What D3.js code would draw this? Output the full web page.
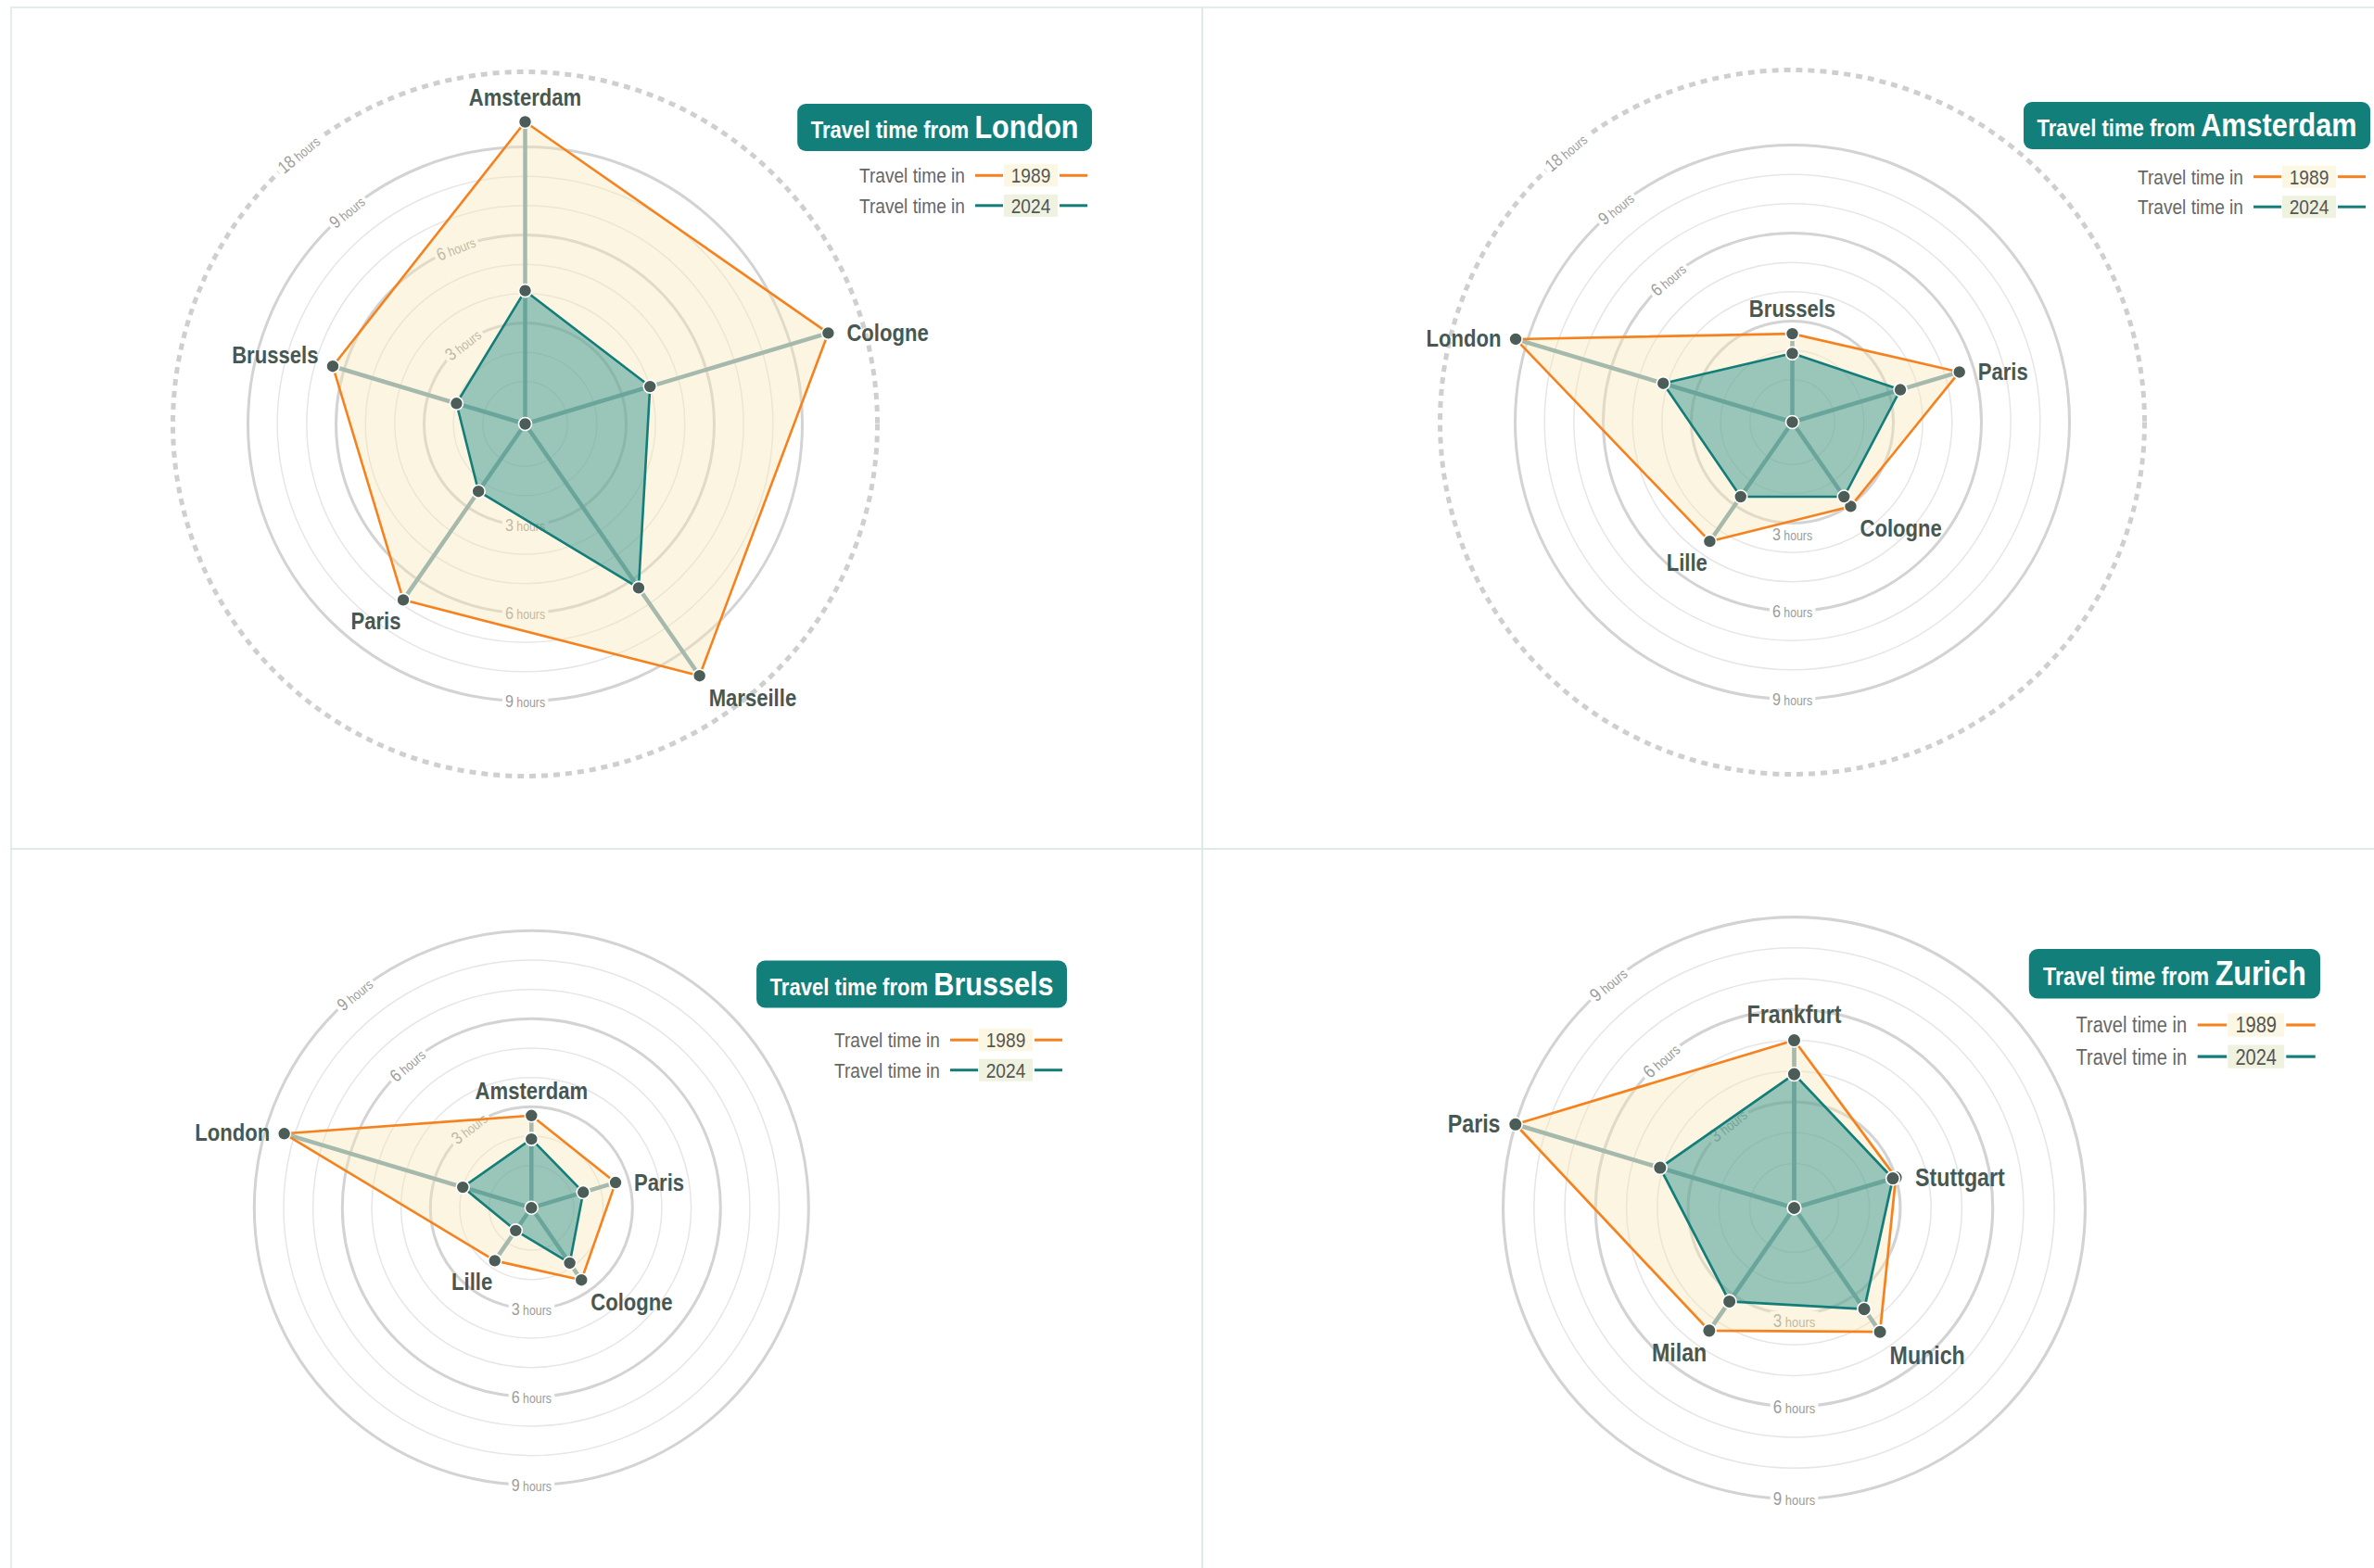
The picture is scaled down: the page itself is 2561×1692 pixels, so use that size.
<!DOCTYPE html>
<html>
<head>
<meta charset="utf-8">
<title>Rail travel times, 1989 vs 2024</title>
<script src="https://cdn.jsdelivr.net/npm/d3@7"></script>
<style>
  html, body { margin: 0; padding: 0; background: #ffffff; }
  svg { display: block; }
  text { font-family: "Liberation Sans", Arial, "Helvetica Neue", sans-serif; }
</style>
</head>
<body>
<svg id="chart" width="2561" height="1692"></svg>
<script>
// ---- Data: door-to-door rail travel time in hours ----
const years = ["1989", "2024"];

const londonCities = ["Amsterdam", "Cologne", "Marseille", "Paris", "Brussels"];
const london1989 = [12.0, 13.7, 12.5, 6.85, 6.4];
const london2024 = [4.1, 4.0, 6.35, 2.35, 2.0];

const amsterdamCities = ["Brussels", "Paris", "Cologne", "Lille", "London"];
const amsterdam1989 = [2.57, 5.5, 3.05, 4.5, 10.4];
const amsterdam2024 = [1.9, 3.4, 2.65, 2.65, 4.15];

const brusselsCities = ["Amsterdam", "Paris", "Cologne", "Lille", "London"];
const brussels1989 = [2.7, 2.55, 2.55, 1.75, 8.35];
const brussels2024 = [1.9, 1.4, 1.85, 0.5, 2.0];

const zurichCities = ["Frankfurt", "Stuttgart", "Munich", "Milan", "Paris"];
const zurich1989 = [5.0, 3.0, 4.45, 4.4, 9.0];
const zurich2024 = [3.9, 2.9, 3.55, 3.25, 4.1];

// ring ticks (hours)
const hourRings = [1, 2, 3, 4, 5, 6, 7, 8, 9];
const majorRings = [3, 6, 9];
const extendedRing = 18;

const charts = [
  { origin: "London",    cities: londonCities,    values: [london1989, london2024] },
  { origin: "Amsterdam", cities: amsterdamCities, values: [amsterdam1989, amsterdam2024] },
  { origin: "Brussels",  cities: brusselsCities,  values: [brussels1989, brussels2024] },
  { origin: "Zurich",    cities: zurichCities,    values: [zurich1989, zurich2024] }
];

// ---- Layout & style ----
const layout = [
  { cx: 566.5, cy: 457.5, k: 1, titleRight: 1178, titleTop: 112, legendGap: 26.3,
    sideLabels: [[3, -38], [6, -21.5], [9, -40], [18, -40]], bottomLabels: [[3, 0], [6, 0], [9, 0]],
    nudge: { 4: -11 } },
  { cx: 1933.5, cy: 455.5, k: 1, titleRight: 2557, titleTop: 110, legendGap: 29.7,
    sideLabels: [[6, -41], [9, -39.5], [18, -40]], bottomLabels: [[3, 12], [6, 0], [9, 0]],
    nudge: {} },
  { cx: 573.3, cy: 1303.3, k: 1, titleRight: 1151, titleTop: 1036.5, legendGap: 34.7,
    sideLabels: [[3, -38], [6, -41], [9, -39.6]], bottomLabels: [[3, 0], [6, 0], [9, 0]],
    nudge: {} },
  { cx: 1935.5, cy: 1303.5, k: 1.05, titleRight: 2503, titleTop: 1024, legendGap: 27.1,
    sideLabels: [[3, -38.6], [6, -42], [9, -39.7]], bottomLabels: [[3, 7], [6, 0], [9, 0]],
    nudge: {} }
];

// axis directions, degrees clockwise from 12 o'clock
const axisAngles = [0, 73.3, 145.3, 214.7, 286.7];

const panelBox = { x: 12, y: 8, w: 1285, h: 908 };

const SX = 0.85; // horizontal condensing of all text
const C = {
  orange: "#f5821f", teal: "#137d79", tealFill: "#1b8a84", cream: "#f8e7b4",
  spoke: "#a6b9ad", dot: "#4c5d58", label: "#475853",
  ringMajor: "#d3d3d3", ringMinor: "#e6e6e6", ringDots: "#cfcfcf", ringText: "#9c9c9c",
  border: "#dbe8e6", title: "#137f7b", legendText: "#666666", yearText: "#555555",
  yearBg: ["#fbf7e2", "#eef2df"]
};
const seriesStroke = [C.orange, C.teal];

// label placement around the five axes (offsets from the outer point)
const axisLabelPlace = [
  { dx: 0,     dy: -18, anchor: "middle" },
  { dx: 20,    dy: 8.5, anchor: "start" },
  { dx: 10,    dy: 33,  anchor: "start" },
  { dx: -2.5,  dy: 32,  anchor: "end" },
  { dx: -15.5, dy: 8,   anchor: "end" }
];

const svg = d3.select("#chart");

// panel frames
const frames = [[0, 0], [1, 0], [0, 1], [1, 1]];
svg.append("g").selectAll("rect").data(frames).join("rect")
  .attr("x", d => panelBox.x + d[0] * panelBox.w)
  .attr("y", d => panelBox.y + d[1] * panelBox.h)
  .attr("width", panelBox.w).attr("height", panelBox.h)
  .attr("fill", "none").attr("stroke", C.border).attr("stroke-width", 1.5);

function condensedText(parent, x, y, rot) {
  return parent.append("text")
    .attr("transform", `translate(${x},${y}) rotate(${rot || 0}) scale(${SX},1)`);
}

function drawChart(chart, lay) {
  const allVals = chart.values.flat();
  const ext = d3.max(allVals) > 9;
  const r = d3.scaleLinear()
    .domain(ext ? [0, 9, extendedRing] : [0, 9])
    .range(ext ? [14, 299, 380] : [14, 299]);
  const angle = i => axisAngles[i] * Math.PI / 180;
  const pt = (v, i) => [r(v) * Math.sin(angle(i)), -r(v) * Math.cos(angle(i))];

  const g = svg.append("g").attr("transform", `translate(${lay.cx},${lay.cy}) scale(${lay.k})`);

  // concentric hour rings
  g.append("g").selectAll("circle").data(hourRings).join("circle")
    .attr("r", d => r(d)).attr("fill", "none")
    .attr("stroke", d => majorRings.includes(d) ? C.ringMajor : C.ringMinor)
    .attr("stroke-width", d => majorRings.includes(d) ? 3 : 1.5);
  if (ext) {
    g.append("circle").attr("r", r(extendedRing)).attr("fill", "none")
      .attr("stroke", C.ringDots).attr("stroke-width", 5).attr("stroke-dasharray", "7 6");
  }

  // ring labels (upper-left along the ring, and at the bottom)
  const ringLabels = [
    ...lay.sideLabels.map(([h, a]) => ({ h, a, off: 0 })),
    ...lay.bottomLabels.map(([h, off]) => ({ h, a: 180, off }))
  ];
  const lblLayer = g.append("g");
  ringLabels.forEach(d => {
    const rad = r(d.h) + d.off;
    const a = d.a * Math.PI / 180;
    const x = rad * Math.sin(a), y = -rad * Math.cos(a);
    const rot = d.a === 180 ? 0 : d.a;
    const lg = lblLayer.append("g").attr("transform", `translate(${x},${y}) rotate(${rot}) scale(${SX},1)`);
    const t = lg.append("text").attr("text-anchor", "middle").attr("y", 6.5).attr("fill", C.ringText);
    t.append("tspan").attr("font-size", 19).text(d.h);
    t.append("tspan").attr("font-size", 14.5).text(" hours");
    const bb = t.node().getBBox();
    lg.insert("rect", "text")
      .attr("x", bb.x - 3 / SX).attr("y", bb.y + 1)
      .attr("width", bb.width + 6 / SX).attr("height", bb.height - 2)
      .attr("fill", "#ffffff");
  });

  const radial = d3.lineRadial()
    .angle((d, i) => angle(i)).radius(d => r(d))
    .curve(d3.curveLinearClosed);

  // 1989 area
  g.append("path").attr("d", radial(chart.values[0]))
    .attr("fill", C.cream).attr("fill-opacity", 0.4).attr("stroke", "none");

  // spokes to the outer value on each axis
  const outer = chart.cities.map((c, i) => d3.max(chart.values, s => s[i]));
  g.append("g").selectAll("line").data(outer).join("line")
    .attr("x1", 0).attr("y1", 0)
    .attr("x2", (d, i) => pt(d, i)[0]).attr("y2", (d, i) => pt(d, i)[1])
    .attr("stroke", C.spoke).attr("stroke-width", 4.5);

  // 2024 area
  g.append("path").attr("d", radial(chart.values[1]))
    .attr("fill", C.tealFill).attr("fill-opacity", 0.44).attr("stroke", "none");

  // outlines
  chart.values.forEach((vals, s) => {
    g.append("path").attr("d", radial(vals))
      .attr("fill", "none").attr("stroke", seriesStroke[s]).attr("stroke-width", 2.6)
      .attr("stroke-linejoin", "round");
  });

  // dots
  const dots = [{ p: [0, 0] }];
  chart.values.forEach(vals => vals.forEach((v, i) => dots.push({ p: pt(v, i) })));
  g.append("g").selectAll("circle").data(dots).join("circle")
    .attr("cx", d => d.p[0]).attr("cy", d => d.p[1]).attr("r", 7)
    .attr("fill", C.dot).attr("stroke", "#ffffff").attr("stroke-width", 1.6);

  // destination labels
  chart.cities.forEach((city, i) => {
    const [px, py] = pt(outer[i], i);
    const pl = axisLabelPlace[i];
    const dy = pl.dy + (lay.nudge[i] || 0);
    condensedText(g, px + pl.dx, py + dy)
      .attr("text-anchor", pl.anchor).attr("font-size", 26).attr("font-weight", "bold")
      .attr("fill", C.label).text(city);
  });

  // title badge + legend
  const lg = svg.append("g").attr("transform", `translate(${lay.titleRight},${lay.titleTop}) scale(${lay.k})`);
  const boxH = 51;
  const title = condensedText(lg, -14.5, 37).attr("text-anchor", "end")
    .attr("fill", "#ffffff").attr("font-weight", "bold");
  title.append("tspan").attr("font-size", 26).text("Travel time from ");
  title.append("tspan").attr("font-size", 36).text(chart.origin);
  const tw = title.node().getComputedTextLength() * SX;
  lg.insert("rect", "text")
    .attr("x", -(tw + 29)).attr("y", 0).attr("width", tw + 29).attr("height", boxH)
    .attr("rx", 9).attr("fill", C.title);

  years.forEach((yr, s) => {
    const cy = boxH + lay.legendGap + s * 32.5;
    condensedText(lg, -137, cy + 8).attr("text-anchor", "end")
      .attr("font-size", 22.5).attr("fill", C.legendText).text("Travel time in");
    lg.append("line").attr("x1", -126).attr("x2", -96).attr("y1", cy).attr("y2", cy)
      .attr("stroke", seriesStroke[s]).attr("stroke-width", 3);
    lg.append("rect").attr("x", -95).attr("y", cy - 12).attr("width", 58).attr("height", 24)
      .attr("fill", C.yearBg[s]);
    condensedText(lg, -66, cy + 8).attr("text-anchor", "middle")
      .attr("font-size", 22.5).attr("fill", C.yearText).text(yr);
    lg.append("line").attr("x1", -35).attr("x2", -5).attr("y1", cy).attr("y2", cy)
      .attr("stroke", seriesStroke[s]).attr("stroke-width", 3);
  });
}

charts.forEach((c, i) => drawChart(c, layout[i]));
</script>
</body>
</html>
